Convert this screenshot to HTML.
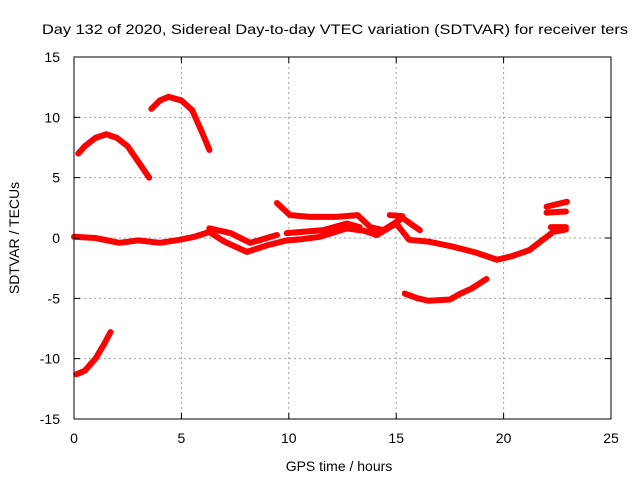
<!DOCTYPE html>
<html><head><meta charset="utf-8"><style>
body{margin:0;background:#fff}
svg text{font-family:"Liberation Sans",sans-serif;font-size:14px;fill:#000}
</style></head><body>
<svg id="chart" width="640" height="480" xmlns="http://www.w3.org/2000/svg">
<text x="335" y="34" text-anchor="middle" textLength="586" lengthAdjust="spacingAndGlyphs">Day 132 of 2020, Sidereal Day-to-day VTEC variation (SDTVAR) for receiver ters</text>
<g id="grid"></g>
<g id="series"></g>
<rect x="74" y="57" width="537" height="362" fill="none" stroke="#000" stroke-width="1"/>
<g id="ticks"></g>
<text x="339" y="471" text-anchor="middle">GPS time / hours</text>
<text transform="translate(19,238) rotate(-90)" text-anchor="middle">SDTVAR / TECUs</text>
</svg>
<script>
const xTicks=[0,5,10,15,20,25];
const yTicks=[-15,-10,-5,0,5,10,15];
const seg1=[[0.1,-11.3],[0.5,-11],[1,-10],[1.4,-8.8],[1.7,-7.8]];
const seg2=[[0.2,7],[0.5,7.6],[1,8.3],[1.5,8.6],[2,8.3],[2.5,7.6],[3,6.3],[3.5,5.0]];
const seg3=[[3.6,10.7],[4,11.4],[4.4,11.7],[5,11.4],[5.5,10.6],[6,8.6],[6.3,7.3]];
const seg4=[[15.4,-4.6],[16,-5],[16.5,-5.2],[17.5,-5.1],[18,-4.6],[18.5,-4.2],[19.2,-3.4]];
const seg5=[[0,0.1],[1,0],[2.1,-0.4],[3,-0.2],[4,-0.4],[4.9,-0.15],[5.6,0.1],[6.3,0.5],[7,-0.3],[8.05,-1.15],[9,-0.6],[9.9,-0.2],[10.6,-0.1],[11.45,0.1],[12.7,0.8],[13.5,0.6],[14.1,0.25],[15.0,1.2],[15.6,-0.15],[16.5,-0.3],[17.6,-0.7],[18.7,-1.2],[19.7,-1.8],[20.4,-1.5],[21.2,-1],[22.3,0.5],[22.9,0.7]];
const seg6=[[9.45,2.9],[10.05,1.9],[11,1.75],[12.2,1.75],[13.2,1.9],[13.8,0.9],[14.4,0.65],[15.3,1.65],[16.1,0.65]];
const seg7=[[14.7,1.9],[15.3,1.8]];
const seg8=[[9.9,0.4],[11.6,0.65],[12.7,1.2],[13.3,0.9]];
const seg9=[[6.3,0.8],[7.3,0.4],[8.2,-0.4],[9.45,0.25]];
const seg10=[[22,2.6],[22.95,3.0]];
const seg11=[[22,2.1],[22.9,2.2]];
const seg12=[[22.2,0.9],[22.9,0.9]];
const segments=[seg1,seg2,seg3,seg4,seg5,seg6,seg7,seg8,seg9,seg10,seg11,seg12];
const X=v=>74+v*537/25, Y=v=>238-v*362/30;
const NS="http://www.w3.org/2000/svg";
const grid=document.getElementById('grid'),ticks=document.getElementById('ticks'),ser=document.getElementById('series');
function mk(t,a,p){const e=document.createElementNS(NS,t);for(const k in a)e.setAttribute(k,a[k]);p.appendChild(e);return e;}
xTicks.forEach(t=>{const x=X(t);
 if(t>0&&t<25){const g=mk('line',{x1:x,x2:x,y1:57,y2:419,stroke:'#a0a0a0','stroke-dasharray':'2,3'},grid);
 
 }
 const tk=mk('path',{d:`M${x},419v-6M${x},57v6`,stroke:'#000'},ticks);
 
 
 const l=mk('text',{x:x,y:443,'text-anchor':'middle'},ticks);l.textContent=t;
 
 });
yTicks.forEach(t=>{const y=Y(t);
 if(t>-15&&t<15){const g=mk('line',{x1:74,x2:611,y1:y,y2:y,stroke:'#a0a0a0','stroke-dasharray':'2,3'},grid);
 
 }
 const tk=mk('path',{d:`M74,${y}h6M611,${y}h-6`,stroke:'#000'},ticks);
 
 
 const l=mk('text',{x:60,y:y+5,'text-anchor':'end'},ticks);l.textContent=t;
 
 });
segments.forEach(s=>{const p=mk('polyline',{points:s.map(d=>X(d[0])+','+Y(d[1])).join(' '),fill:'none',stroke:'#ff0000','stroke-width':6,'stroke-linejoin':'round','stroke-linecap':'round'},ser);
 
 });
</script>
</body></html>
